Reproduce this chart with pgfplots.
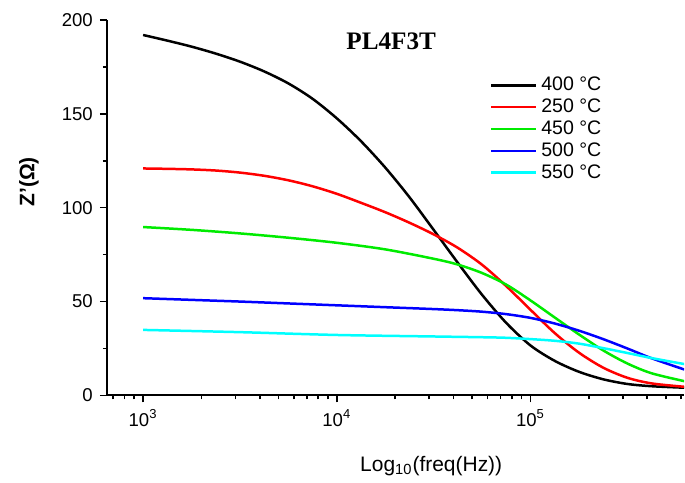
\documentclass[border=0pt]{standalone}
\usepackage{fontspec}
\setmainfont{Liberation Sans}
\newfontfamily\titlefont{Liberation Serif}
\usepackage{pgfplots}
\pgfplotsset{compat=1.18}

\definecolor{cblack}{RGB}{0,0,0}
\definecolor{cred}{RGB}{255,0,0}
\definecolor{cgreen}{RGB}{0,235,0}
\definecolor{cblue}{RGB}{0,0,255}
\definecolor{ccyan}{RGB}{0,255,255}

\begin{document}
\begin{tikzpicture}
\begin{axis}[
    name=ax,
    scale only axis, width=289pt, height=188pt,
    xmode=log, xmin=650, xmax=6.2e5,
    ymin=0, ymax=200,
    axis x line*=bottom, axis y line*=left,
    axis line style={line width=1pt},
    tick align=outside,
    major tick length=3.5pt, minor tick length=2pt,
    every tick/.style={black, line width=0.8pt},
    xtick={1e3,1e4,1e5},
    minor xtick={700,800,900,2000,3000,4000,5000,6000,7000,8000,9000,
        2e4,3e4,4e4,5e4,6e4,7e4,8e4,9e4,2e5,3e5,4e5,5e5,6e5},
    xticklabels={10\textsuperscript{3},10\textsuperscript{4},10\textsuperscript{5}},
    ytick={0,50,100,150,200},
    minor y tick num=1,
    /pgf/number format/assume math mode=true,
    tick label style={font=\fontsize{9.3}{11}\selectfont},
    xlabel={Log\textsubscript{10}(freq(Hz))},
    xlabel style={font=\fontsize{10.5}{12}\selectfont, at={(axis description cs:0.562,0)}, anchor=north, yshift=-27pt},
    ylabel={\textbf{Z'(Ω)}},
    ylabel style={font=\fontsize{10.5}{12}\selectfont, at={(axis description cs:-0.135,0.569)}, anchor=center},
    legend style={draw=none, fill=none, at={(axis description cs:0.663,0.86)}, anchor=north west,
        font=\fontsize{9.8}{11}\selectfont, row sep=-1.4pt, inner sep=0pt},
    legend cell align=left,
    legend image code/.code={\draw[#1, line width=1.25pt] (0pt,0pt) -- (22.5pt,0pt);},
    every axis plot/.append style={line width=1.25pt, smooth},
]
% 400 C
\addplot[cblack] coordinates {
    (1000,192)(1334,189)(1778,185.8)(2371,182.1)(3162,177.8)(4217,172.6)
    (5623,166.2)(7499,158)(10000,147.6)(13340,135.4)(17780,121.4)(23710,105.6)
    (31620,88.2)(42170,70.6)(56230,53.6)(74990,38.6)(100000,26.6)(133400,18.4)
    (177800,12.6)(237100,8.6)(316200,6.1)(421700,4.9)(622300,4.1)
};
\addlegendentry{400 °C}
% 250 C
\addplot[cred] coordinates {
    (1000,120.9)(1334,120.7)(1778,120.4)(2371,119.8)(3162,118.7)(4217,117)
    (5623,114.6)(7499,111.4)(10000,107.4)(13340,102.6)(17780,97.6)(23710,92)
    (31620,85.8)(42170,78.6)(56230,69.6)(74990,58.2)(100000,45.6)(133400,33.2)
    (177800,22.8)(237100,14.8)(316200,9.4)(421700,6.4)(622300,4.6)
};
\addlegendentry{250 °C}
% 450 C
\addplot[cgreen] coordinates {
    (1000,89.7)(1778,88.2)(3162,86.3)(5623,84)(10000,81.3)(17780,77.8)
    (31620,72.8)(42170,69.7)(56230,65.2)(74990,59)(100000,50.6)(133400,41.5)
    (177800,32.5)(237100,24)(316200,17)(421700,11.8)(622300,7.6)
};
\addlegendentry{450 °C}
% 500 C
\addplot[cblue] coordinates {
    (1000,51.8)(1778,50.9)(3162,50)(5623,49)(10000,48)(17780,47)(31620,46)
    (42170,45.4)(56230,44.6)(74990,43.3)(100000,41.3)(133400,38.3)(177800,34.5)
    (237100,30)(316200,25)(421700,19.8)(622300,13.8)
};
\addlegendentry{500 °C}
% 550 C
\addplot[ccyan] coordinates {
    (1000,34.9)(3162,33.7)(10000,32.2)(31620,31.4)(56230,31)(74990,30.7)
    (100000,30)(133400,29.1)(177800,27.6)(237100,25.2)(316200,22.6)
    (421700,19.9)(622300,16.7)
};
\addlegendentry{550 °C}
\node[font=\titlefont\bfseries\fontsize{12.6}{14}\selectfont] at (axis description cs:0.4926,0.943) {PL4F3T};
\end{axis}
\path ([shift={(-53.5pt,-39.5pt)}]ax.south west) rectangle ([shift={(0pt,10pt)}]ax.north east);
\end{tikzpicture}
\end{document}
